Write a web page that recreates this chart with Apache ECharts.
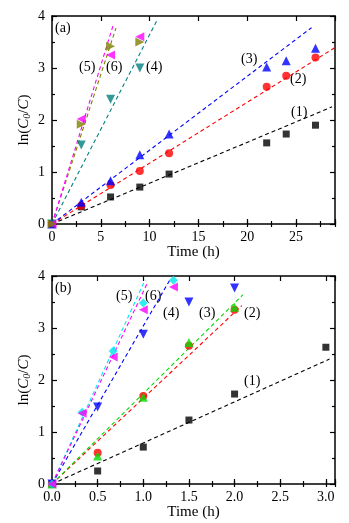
<!DOCTYPE html>
<html>
<head>
<meta charset="utf-8">
<script src="https://cdn.jsdelivr.net/npm/echarts@6/dist/echarts.min.js"></script>
<style>
  html, body { margin: 0; padding: 0; background: #fff; }
  #echarts { width: 349px; height: 523px; }
</style>
</head>
<body>
<div id="echarts"></div>
<script>
// panel (a): time in hours
var timeA = [0, 3, 6, 9, 12, 22, 24, 27];
var a1 = [0, 0.33, 0.52, 0.71, 0.96, 1.56, 1.73, 1.90];
var a2 = [0, 0.35, 0.75, 1.02, 1.36, 2.64, 2.85, 3.20];
var a3 = [0, 0.42, 0.83, 1.33, 1.73, 3.02, 3.14, 3.38];
var timeAfast = [0, 3, 6, 9];
var a4 = [0, 1.52, 2.40, 3.00];
var a5 = [0, 1.92, 3.42, 3.50];
var a6 = [0, 2.02, 3.25, 3.60];
// linear fits ln(C0/C) = k t, drawn up to fitEnd
var slopeA = [0.0785, 0.117, 0.142, 0.364, 0.575, 0.61];
var fitEndA = [28.7, 29, 26.6, 10.8, 6.55, 6.25];

// panel (b)
var timeB1 = [0, 0.5, 1.0, 1.5, 2.0, 3.0];
var b1 = [0, 0.25, 0.71, 1.23, 1.73, 2.63];
var timeB = [0, 0.5, 1.0, 1.5, 2.0];
var b2 = [0, 0.60, 1.69, 2.66, 3.35];
var b3 = [0, 0.54, 1.67, 2.72, 3.40];
var b4 = [0, 1.48, 2.88, 3.50, 3.77];
var timeBfast = [0, 0.33, 0.67, 1.0, 1.33];
var b5 = [0, 1.38, 2.56, 3.48, 3.92];
var b6 = [0, 1.36, 2.44, 3.35, 3.79];
var slopeB = [0.79, 1.65, 1.74, 3.04, 3.85, 3.70];
var fitEndB = [3.04, 2.08, 2.09, 1.29, 1.02, 1.05];

var yTicks = [0, 1, 2, 3, 4];

var colors = ['#000000', '#ff0000', '#0000ff', '#008080', '#808000', '#ff00ff'];
var colorsB = ['#000000', '#ff0000', '#00dd00', '#0000ff', '#00e5ee', '#ff00ff'];
var font = '"Liberation Serif", "Times New Roman", serif';

var myChart = echarts.init(document.getElementById('echarts'));

function zip(xs, ys) {
    return xs.map(function (x, i) { return [x, ys[i]]; });
}

function fitLine(k, end) {
    return [[0, 0], [end, k * end]];
}

// 4 x axes per grid: bottom major/minor, top major/minor
function xAxes(grid, max, major, minor, fmt) {
    var base = {
        gridIndex: grid, type: 'value', min: 0, max: max,
        splitLine: { show: false },
        axisLine: { show: true, onZero: false, lineStyle: { color: '#000', width: 1.5 } }
    };
    var list = [];
    ['bottom', 'top'].forEach(function (pos) {
        list.push(Object.assign({}, base, {
            position: pos, interval: major,
            axisTick: { inside: true, length: 5, lineStyle: { color: '#000', width: 1.2 } },
            axisLabel: {
                show: pos === 'bottom', margin: 6, color: '#000',
                fontFamily: font, fontSize: 14,
                formatter: function (v) {
                    var r = Math.round(v / major);
                    return Math.abs(v - r * major) < 1e-6 ? fmt(v) : '';
                }
            },
            name: pos === 'bottom' ? 'Time (h)' : '',
            nameLocation: 'middle', nameGap: 21,
            nameTextStyle: { color: '#000', fontFamily: font, fontSize: 15 }
        }));
        list.push(Object.assign({}, base, {
            position: pos, interval: minor,
            axisLine: { show: false },
            axisTick: { inside: true, length: 3, lineStyle: { color: '#000', width: 1.2 } },
            axisLabel: { show: false }
        }));
    });
    return list;
}

function yAxes(grid) {
    var base = {
        gridIndex: grid, type: 'value', min: 0, max: 4, interval: 1,
        splitLine: { show: false },
        axisLine: { show: true, onZero: false, lineStyle: { color: '#000', width: 1.5 } },
        axisTick: { inside: true, length: 5, lineStyle: { color: '#000', width: 1.2 } },
        minorTick: { show: true, splitNumber: 2, length: 3, lineStyle: { color: '#000', width: 1.2 } }
    };
    return [
        Object.assign({}, base, {
            position: 'left',
            axisLabel: {
                margin: 7, color: '#000', fontFamily: font, fontSize: 14,
                formatter: function (v) { return yTicks.indexOf(v) >= 0 ? String(v) : ''; }
            },
            name: '{n|ln(}{i|C}{s|0}{n|/}{i|C}{n|)}',
            nameLocation: 'middle', nameRotate: 90, nameGap: 20,
            nameMoveOverlap: false,
            nameTextStyle: {
                color: '#000', fontFamily: font, fontSize: 15,
                rich: {
                    n: { fontFamily: font, fontSize: 15, color: '#000' },
                    i: { fontFamily: font, fontSize: 15, fontStyle: 'italic', color: '#000' },
                    s: { fontFamily: font, fontSize: 10, fontStyle: 'italic', color: '#000', padding: [6, 0, 0, 0] }
                }
            }
        }),
        Object.assign({}, base, { position: 'right', axisLabel: { show: false } })
    ];
}

var symbols = [
    { symbol: 'rect', size: 7, rotate: 0 },
    { symbol: 'circle', size: 8, rotate: 0 },
    { symbol: 'triangle', size: 9, rotate: 0 },
    { symbol: 'triangle', size: 9, rotate: 180 },
    { symbol: 'triangle', size: 9, rotate: -90 },
    { symbol: 'triangle', size: 9, rotate: 90 }
];
var symbolsB = [
    { symbol: 'rect', size: 7, rotate: 0 },
    { symbol: 'circle', size: 8, rotate: 0 },
    { symbol: 'triangle', size: 9, rotate: 0 },
    { symbol: 'triangle', size: 9, rotate: 180 },
    { symbol: 'diamond', size: 9, rotate: 0 },
    { symbol: 'triangle', size: 9, rotate: 90 }
];

function scatter(xi, yi, data, sym, color, z) {
    return {
        type: 'scatter', xAxisIndex: xi, yAxisIndex: yi, data: data,
        symbol: sym.symbol, symbolSize: sym.size, symbolRotate: sym.rotate,
        itemStyle: { color: color }, z: z
    };
}

function line(xi, yi, k, end, color) {
    return {
        type: 'line', xAxisIndex: xi, yAxisIndex: yi, data: fitLine(k, end),
        showSymbol: false, symbol: 'none', silent: true,
        lineStyle: { color: color, width: 1.1, type: [4, 3] }, z: 2
    };
}

var seriesA = [zip(timeA, a1), zip(timeA, a2), zip(timeA, a3),
    zip(timeAfast, a4), zip(timeAfast, a5), zip(timeAfast, a6)];
var seriesB = [zip(timeB1, b1), zip(timeB, b2), zip(timeB, b3),
    zip(timeB, b4), zip(timeBfast, b5), zip(timeBfast, b6)];

var series = [];
for (var i = 0; i < 6; i++) {
    series.push(line(0, 0, slopeA[i], fitEndA[i], colors[i]));
    // olive on top at the origin in (a)
    series.push(scatter(0, 0, seriesA[i], symbols[i], colors[i], i === 4 ? 4 : 3));
    series.push(line(4, 2, slopeB[i], fitEndB[i], colorsB[i]));
    series.push(scatter(4, 2, seriesB[i], symbolsB[i], colorsB[i], 3));
}

function label(text, x, y) {
    return {
        type: 'text', left: x, top: y,
        style: { text: text, fill: '#000', font: '14px ' + font }
    };
}

var option = {
    animation: false,
    backgroundColor: '#fff',
    grid: [
        { left: 52, top: 16, width: 283, height: 208 },
        { left: 52, top: 276, width: 283, height: 208 }
    ],
    xAxis: xAxes(0, 29, 5, 2.5, function (v) { return String(v); })
        .concat(xAxes(1, 3.1, 0.5, 0.25, function (v) { return v.toFixed(1); })),
    yAxis: yAxes(0).concat(yAxes(1)),
    series: series,
    graphic: [
        label('(a)', 55, 21),
        label('(5)', 79, 60),
        label('(6)', 106, 60),
        label('(4)', 146, 60),
        label('(3)', 241, 52),
        label('(2)', 290, 72),
        label('(1)', 291, 105),
        label('(b)', 55, 281),
        label('(5)', 116, 289),
        label('(6)', 145, 289),
        label('(4)', 163, 306),
        label('(3)', 199, 306),
        label('(2)', 244, 306),
        label('(1)', 244, 374)
    ]
};

myChart.setOption(option);
</script>
</body>
</html>
